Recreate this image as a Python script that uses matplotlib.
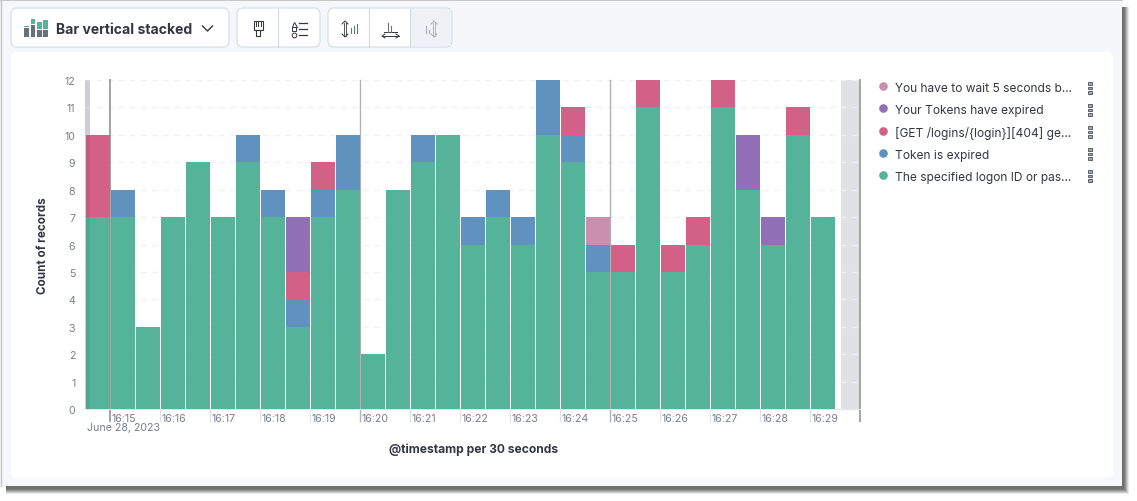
import matplotlib
matplotlib.use("Agg")
import matplotlib.pyplot as plt
import matplotlib.dates as mdates
import matplotlib.transforms as mtrans
from matplotlib.lines import Line2D
from matplotlib.patches import FancyBboxPatch, Rectangle
import numpy as np
import pandas as pd

plt.rcParams["font.family"] = ["Inter", "DejaVu Sans"]

buckets = ["16:14:30", "16:15:00", "16:15:30", "16:16:00", "16:16:30", "16:17:00",
           "16:17:30", "16:18:00", "16:18:30", "16:19:00", "16:19:30", "16:20:00",
           "16:20:30", "16:21:00", "16:21:30", "16:22:00", "16:22:30", "16:23:00",
           "16:23:30", "16:24:00", "16:24:30", "16:25:00", "16:25:30", "16:26:00",
           "16:26:30", "16:27:00", "16:27:30", "16:28:00", "16:28:30", "16:29:00"]

logon = [7, 7, 3, 7, 9, 7, 9, 7, 3, 7, 8, 2, 8, 9, 10, 6, 7, 6, 10, 9, 5, 5, 11, 5, 6, 11, 8, 6, 10, 7]
token_expired = [0, 1, 0, 0, 0, 0, 1, 1, 1, 1, 2, 0, 0, 1, 0, 1, 1, 1, 2, 1, 1, 0, 0, 0, 0, 0, 0, 0, 0, 0]
get_404 = [3, 0, 0, 0, 0, 0, 0, 0, 1, 1, 0, 0, 0, 0, 0, 0, 0, 0, 0, 1, 0, 1, 1, 1, 1, 1, 0, 0, 1, 0]
tokens_expired = [0, 0, 0, 0, 0, 0, 0, 0, 2, 0, 0, 0, 0, 0, 0, 0, 0, 0, 0, 0, 0, 0, 0, 0, 0, 0, 2, 1, 0, 0]
wait_5 = [0, 0, 0, 0, 0, 0, 0, 0, 0, 0, 0, 0, 0, 0, 0, 0, 0, 0, 0, 0, 1, 0, 0, 0, 0, 0, 0, 0, 0, 0]

series_names = ["The specified logon ID or pas...", "Token is expired",
                "[GET /logins/{login}][404] ge...", "Your Tokens have expired",
                "You have to wait 5 seconds b..."]
series_values = [logon, token_expired, get_404, tokens_expired, wait_5]
colors = ["#54B399", "#6092C0", "#D36086", "#9170B8", "#CA8EAE"]

minute_labels = ["16:15", "16:16", "16:17", "16:18", "16:19", "16:20", "16:21", "16:22",
                 "16:23", "16:24", "16:25", "16:26", "16:27", "16:28", "16:29"]
y_ticks = [0, 1, 2, 3, 4, 5, 6, 7, 8, 9, 10, 11, 12]

W, H = 1137, 502
DAY = "2023-06-28 "
TICK_GREY = "#7a7f8a"
INK = "#343741"


def num(t):
    return mdates.date2num(pd.Timestamp(DAY + t))


fig = plt.figure(figsize=(W / 100, H / 100), dpi=100, facecolor="white")

# window chrome, drawn in pixel coordinates
bg = fig.add_axes([0, 0, 1, 1])
bg.set_xlim(0, W)
bg.set_ylim(H, 0)
bg.axis("off")


def box(x0, y0, x1, y1, fc, ec="none", r=4, lw=0.8, z=1):
    bg.add_patch(FancyBboxPatch((x0 + r, y0 + r), x1 - x0 - 2 * r, y1 - y0 - 2 * r,
                                boxstyle=f"round,pad={r},rounding_size={r}",
                                fc=fc, ec=ec, lw=lw, zorder=z))


# drop shadow, fading out to the right and below
for i, g in enumerate(["#e8e8e8", "#cfcfcf", "#b0b0b0", "#959595", "#7d7d7d", "#6f6f6f"]):
    grow = 7 - i
    bg.add_patch(Rectangle((6, 8), 1116 + grow, 487 - 8 + grow + 1, fc=g, ec="none", zorder=0.01 * i))
bg.add_patch(Rectangle((0, 0), 1122, 487, fc="#f5f7fa", ec="none", zorder=0.2))
bg.plot([0, 1122], [0.5, 0.5], color="#bdbdbd", lw=1.2, zorder=0.3)
bg.plot([0.5, 0.5], [0, 487], color="#c4c4c4", lw=1.0, zorder=0.3)
box(11, 53, 1113, 479, "white", r=6)

border = "#d3dae6"
box(11, 9, 229, 48, "white", border, r=6)
box(237, 9, 320, 48, "white", border, r=6)
box(328, 9, 452, 48, "white", border, r=6)
bg.add_patch(Rectangle((411, 10), 40, 37, fc="#eef1f6", ec="none", zorder=1.2))
for x in [278, 369, 410]:
    bg.plot([x, x], [9.5, 47.5], color=border, lw=0.8, zorder=2)

bg.text(55.5, 30.5, "Bar vertical stacked", fontsize=10.1, fontweight="bold",
        color=INK, va="center", ha="left", zorder=3)
bg.plot([202.5, 207.5, 212.5], [27, 32, 27], color=INK, lw=1.0, zorder=3)

# toolbar icons
for x, w, g0, g1, d0 in [(24, 4.5, 27, 28.3, 29.3), (30.5, 4.5, 20, 25, 26),
                         (37, 4.7, 23, 29.5, 31), (43.3, 4.7, 21, 29.5, 31)]:
    bg.add_patch(Rectangle((x, g0), w, g1 - g0, fc="#54B399", ec="none", zorder=3))
    bg.add_patch(Rectangle((x, d0), w, 37.5 - d0, fc="#69707d", ec="none", zorder=3))
bg.add_patch(Rectangle((253.5, 22), 9, 9, fc="white", ec=INK, lw=.8, zorder=3))
for x in [255.5, 258, 260.5]:
    bg.plot([x, x], [22, 27], color=INK, lw=.7, zorder=3)
bg.plot([256, 256, 260, 260], [31, 37, 37, 31], color=INK, lw=.8, zorder=3)
for yy in [24, 30, 35.5]:
    bg.plot([299, 307], [yy, yy], color=INK, lw=.9, zorder=3)
bg.plot([293.5], [24.5], marker="^", ms=3.6, mfc="white", mec=INK, mew=.7, zorder=3)
bg.plot([293.5], [30], marker="s", ms=3.2, mfc="white", mec=INK, mew=.7, zorder=3)
bg.plot([293.5], [35.5], marker="o", ms=3.4, mfc="white", mec=INK, mew=.7, zorder=3)


def y_bound_icon(x, c):
    bg.plot([x - 3, x, x + 3], [25, 22, 25], color=c, lw=.7, zorder=3)
    bg.plot([x - 3, x, x + 3], [35, 38, 35], color=c, lw=.7, zorder=3)
    bg.plot([x - 1, x - 1], [23.5, 36.5], color=c, lw=.6, zorder=3)
    bg.plot([x + 1, x + 1], [23.5, 36.5], color=c, lw=.6, zorder=3)


y_bound_icon(345, INK)
for x, y0 in [(351, 29), (354, 27), (357, 25)]:
    bg.plot([x, x], [y0, 34], color="#69707d", lw=.8, zorder=3)
y_bound_icon(434, "#a6aebb")
for x, y0 in [(426, 27), (429, 31)]:
    bg.plot([x, x], [y0, 34], color="#a6aebb", lw=.8, zorder=3)
bg.plot([384, 397], [33, 33], color=INK, lw=.7, zorder=3)
for x, y0 in [(388, 24), (391, 27)]:
    bg.plot([x, x], [y0, 33], color="#69707d", lw=.8, zorder=3)
bg.plot([385, 382, 385], [35, 37, 39], color=INK, lw=.7, zorder=3)
bg.plot([396, 399, 396], [35, 37, 39], color=INK, lw=.7, zorder=3)
bg.plot([382, 399], [37, 37], color=INK, lw=.7, zorder=3)

# kebab handles next to the legend
for yy in [89, 111, 133, 155, 177]:
    for dy in [-4.5, 0, 4.5]:
        bg.add_patch(Rectangle((1088.4, yy + dy - 1.2), 3.2, 2.4, fc="#a5a9b1", ec="#4a4f5a", lw=.6, zorder=3))

# chart
ax = fig.add_axes([85 / W, 1 - 410 / H, 775 / W, 329 / H])
ax.patch.set_alpha(0)
times = np.array([num(t) for t in buckets])
bar_w = 24.2 * 1.2 / 86400
bottom = np.zeros(len(times))
for vals, c in zip(series_values, colors):
    ax.bar(times + 0.72 / 86400, vals, width=bar_w, bottom=bottom, align="edge",
           color=c, lw=0, zorder=3)
    bottom += np.array(vals)

ax.set_xlim(num("16:14:30"), num("16:30:00"))
ax.set_ylim(0, 12)
ax.axvspan(num("16:14:30"), num("16:14:36"), color="#e0e1e5", lw=0, zorder=1)
ax.axvspan(num("16:14:30"), num("16:14:36"), color="#4a4f5a", alpha=.12, lw=0, zorder=4)
ax.axvspan(num("16:29:37"), num("16:30:00"), color="#e0e1e5", lw=0, zorder=1)

ax.set_yticks(y_ticks)
ax.set_yticklabels([str(v) for v in y_ticks])
ax.grid(axis="y", color="#eef0f5", lw=1, ls=(0, (4, 4)), zorder=0)
ax.tick_params(axis="y", length=0, pad=7, labelsize=7.6, labelcolor=TICK_GREY)

for s in ["top", "left", "right"]:
    ax.spines[s].set_visible(False)
ax.spines["bottom"].set_color("#e3e6ec")

ax.set_xticks([num(m + ":00") for m in minute_labels])
ax.set_xticklabels(minute_labels)
ax.tick_params(axis="x", length=9, width=.8, color="#dfe2e8", pad=-6, labelsize=7.6,
               labelcolor=TICK_GREY)
shift = mtrans.ScaledTranslation(2 / 100, 0, fig.dpi_scale_trans)
for lab in ax.get_xticklabels():
    lab.set_ha("left")
    lab.set_transform(lab.get_transform() + shift)

for t, c, lw in [("16:15:00", "#a3a3a3", 1.4), ("16:20:00", "#b4b4b4", 1.0),
                 ("16:25:00", "#b4b4b4", 1.0), ("16:30:00", "#a3a3a3", 1.4)]:
    ax.plot([num(t), num(t)], [-0.036, 1], color=c, lw=lw, clip_on=False, zorder=2.5,
            transform=ax.get_xaxis_transform())

ax.text(87, H - 428.5, "June 28, 2023", transform=None, fontsize=7.6, color=TICK_GREY,
        va="center", ha="left")
ax.set_xlabel("@timestamp per 30 seconds", fontsize=8.7, fontweight="bold", color=INK)
ax.xaxis.set_label_coords(0.501, -0.102)
ax.set_ylabel("Count of records", fontsize=8.4, fontweight="bold", color=INK)
ax.yaxis.set_label_coords(-0.047, 0.5)

handles = [Line2D([], [], ls="none", marker="o", ms=6.2, mfc=c, mec="none") for c in colors[::-1]]
fig.legend(handles, series_names[::-1], loc="upper left",
           bbox_to_anchor=(877 / W, 1 - 82.5 / H), frameon=False, fontsize=8.6,
           labelcolor=INK, labelspacing=0.84, handlelength=1.0, handletextpad=0.5,
           borderpad=0.0, borderaxespad=0.0)

fig.savefig("out.png", dpi=100)
plt.close(fig)
